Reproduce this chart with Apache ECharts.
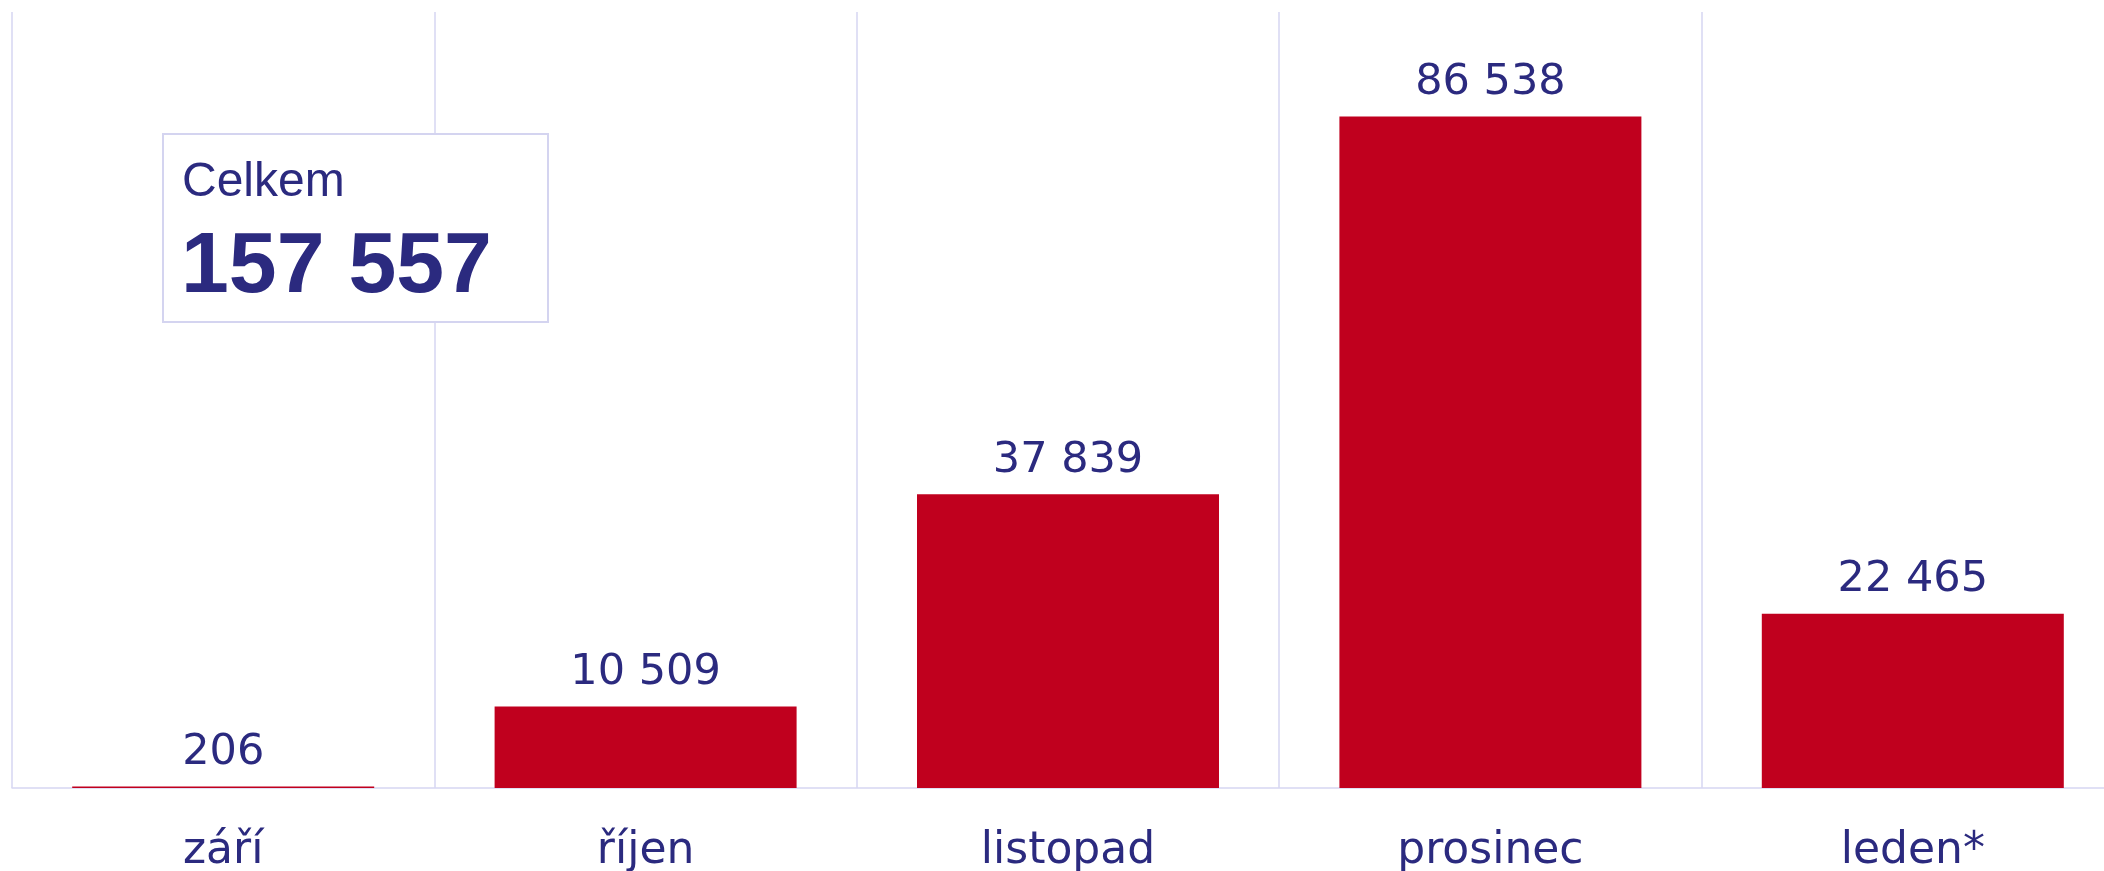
<!DOCTYPE html>
<html>
<head>
<meta charset="utf-8">
<script src="https://cdn.jsdelivr.net/npm/echarts@6/dist/echarts.min.js"></script>
<style>
  html, body { margin: 0; padding: 0; background: #fff; }
  #chart { width: 2104px; height: 871px; }
</style>
</head>
<body>
<div id="chart"></div>
<script>
const months = ['září', 'říjen', 'listopad', 'prosinec', 'leden*']
const counts = [206, 10509, 37839, 86538, 22465]
const totalLabel = 'Celkem'

const navy = '#2b2a7f'
const red = '#c0001e'
const lineColor = '#d6d6f2'

// mezera jako oddělovač tisíců
function fmt(v) {
  return String(v).replace(/\B(?=(\d{3})+(?!\d))/g, ' ')
}

const total = counts.reduce((a, b) => a + b, 0)

const chart = echarts.init(document.getElementById('chart'))

chart.setOption({
  animation: false,
  grid: {
    left: 12,
    top: 12,
    width: 2112,
    height: 776,
    containLabel: false,
    outerBoundsMode: 'none'
  },
  xAxis: {
    type: 'category',
    data: months,
    axisTick: { show: false },
    axisLine: { lineStyle: { color: lineColor, width: 1.5 } },
    splitLine: {
      show: true,
      interval: 0,
      lineStyle: { color: lineColor, width: 1.5 }
    },
    axisLabel: {
      color: navy,
      fontFamily: 'DejaVu Sans',
      fontSize: 44,
      margin: 42
    }
  },
  yAxis: {
    type: 'value',
    min: 0,
    max: 100000,
    show: false,
    splitLine: { show: false }
  },
  series: [{
    type: 'bar',
    data: counts,
    barWidth: 302,
    itemStyle: { color: red },
    label: {
      show: true,
      position: 'top',
      distance: 12,
      color: navy,
      fontFamily: 'DejaVu Sans',
      fontSize: 43,
      formatter: p => fmt(p.value)
    }
  }],
  graphic: [{
    type: 'rect',
    z: 100,
    shape: { x: 163, y: 134, width: 385, height: 188 },
    style: { fill: '#fff', stroke: '#d4d4f0', lineWidth: 2 }
  }, {
    type: 'text',
    z: 101,
    x: 182,
    y: 183,
    style: {
      text: totalLabel,
      fill: navy,
      font: '48px "Liberation Sans"',
      verticalAlign: 'middle'
    }
  }, {
    type: 'text',
    z: 101,
    x: 181,
    y: 268,
    style: {
      text: fmt(total),
      fill: navy,
      font: 'bold 86px "Liberation Sans"',
      verticalAlign: 'middle'
    }
  }]
})
</script>
</body>
</html>
